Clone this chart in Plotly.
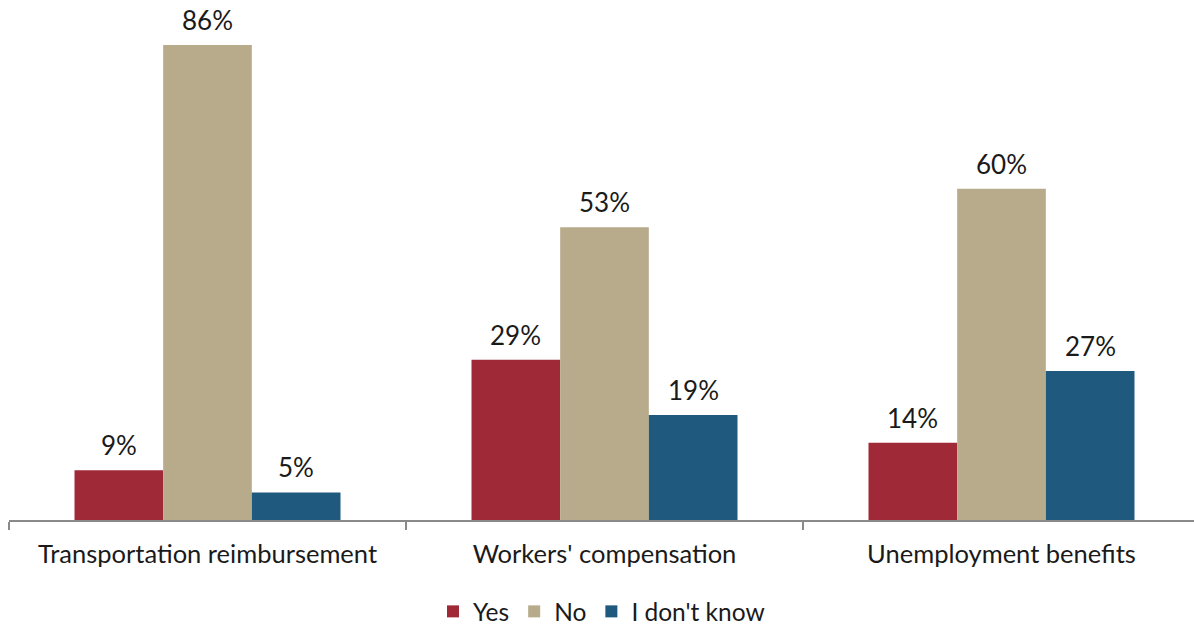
import plotly.graph_objects as go

categories = ["Transportation reimbursement", "Workers' compensation", "Unemployment benefits"]
series_names = ["Yes", "No", "I don't know"]
yes_vals = [9, 29, 14]
no_vals = [86, 53, 60]
idk_vals = [5, 19, 27]
colors = ["#A02938", "#B8AB8B", "#1F597D"]

W, H = 1194, 626
ML, MR, MT, MB = 9, 0, 23, 106
BARGAP = 0.33
CAT_PX = 397  # width of one category slot in the reference
plot_w = W - ML - MR
span = plot_w / CAT_PX
bar_px = CAT_PX * (1 - BARGAP) / len(series_names)

fig = go.Figure()
all_vals = [yes_vals, no_vals, idk_vals]
for i, (name, vals, c) in enumerate(zip(series_names, all_vals, colors)):
    fig.add_trace(go.Bar(
        x=categories, y=vals, name=name,
        marker=dict(color=c, line=dict(width=0)),
    ))
    for cat, v in zip(categories, vals):
        fig.add_annotation(x=cat, y=v, text=f"{v}%", showarrow=False,
                           xshift=(i - 1) * bar_px, yshift=7, yanchor="bottom",
                           font=dict(size=26, color="#1a1a1a"))

fig.update_layout(
    width=W, height=H,
    barmode="group", bargap=BARGAP, bargroupgap=0,
    plot_bgcolor="white", paper_bgcolor="white",
    font=dict(family="Lato, Open Sans, sans-serif", size=24, color="#1a1a1a"),
    margin=dict(l=ML, r=MR, t=MT, b=MB, autoexpand=False),
    xaxis=dict(showline=True, linecolor="#8a8a8a", linewidth=2,
               range=[-0.5, -0.5 + span],
               ticks="outside", tickson="boundaries", ticklen=8, tickwidth=2,
               tickcolor="#8a8a8a",
               tickfont=dict(size=25.5), ticklabelstandoff=10,
               showgrid=False, automargin=False),
    yaxis=dict(range=[0, 90], visible=False, showgrid=False, automargin=False),
    legend=dict(orientation="h", x=0.5, xanchor="center", y=-0.184,
                yanchor="middle", font=dict(size=24.5), itemwidth=30),
    showlegend=True,
)

fig.write_html("out.html", config={"displayModeBar": False},
               post_script="document.body.style.margin='0';document.body.style.overflow='hidden';")
